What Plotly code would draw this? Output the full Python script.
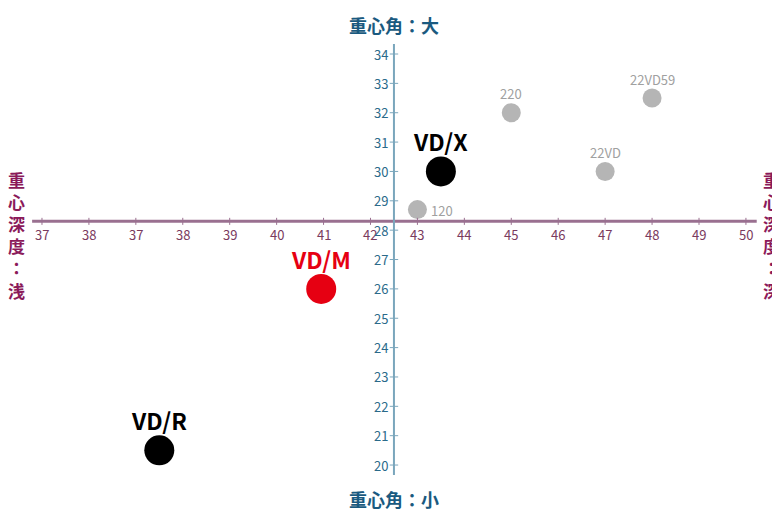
import plotly.graph_objects as go

x_tickvals = list(range(35, 51))
x_ticktext = ["37", "38", "37", "38", "39", "40", "41", "42", "43", "44", "45", "46", "47", "48", "49", "50"]
y_tickvals = list(range(20, 35))

small_names = ["120", "220", "22VD", "22VD59"]
small_x = [43, 45, 47, 48]
small_y = [28.7, 32, 30, 32.5]

big_names = ["VD/X", "VD/M", "VD/R"]
big_x = [43.5, 40.95, 37.5]
big_y = [30, 26, 20.5]
big_colors = ["#000000", "#e60012", "#000000"]

cross_x = 42.5
cross_y = 28.3
xr = [34.276, 50.726]
yr = [18.196, 35.567]

fig = go.Figure()
fig.add_shape(type="line", x0=34.79, x1=50.23, y0=cross_y, y1=cross_y, line=dict(color="#9a7090", width=3))
fig.add_shape(type="line", x0=cross_x, x1=cross_x, y0=19.66, y1=34.34, line=dict(color="#7aa6bc", width=2))

fig.add_trace(go.Scatter(x=small_x, y=small_y, mode="markers", marker=dict(size=19, color="#b5b5b5"), hoverinfo="skip"))
fig.add_trace(go.Scatter(x=big_x, y=big_y, mode="markers", marker=dict(size=30, color=big_colors), hoverinfo="skip"))

ff = "Noto Sans CJK JP"
for n, x, y in zip(small_names, small_x, small_y):
    if n == "120":
        fig.add_annotation(x=x, y=y, text=n, showarrow=False, xshift=25, yshift=-1, font=dict(size=13, color="#a0a0a0", family=ff))
    else:
        fig.add_annotation(x=x, y=y, text=n, showarrow=False, yshift=19, font=dict(size=13, color="#a0a0a0", family=ff))
for n, x, y, c in zip(big_names, big_x, big_y, big_colors):
    fig.add_annotation(x=x, y=y, text="<b>%s</b>" % n, showarrow=False, yshift=30, font=dict(size=23, color=c, family=ff))

for v, t in zip(x_tickvals, x_ticktext):
    fig.add_annotation(x=v, y=cross_y, text=t, showarrow=False, yshift=-13, font=dict(size=13, color="#7a3a5e", family=ff))
    fig.add_shape(type="line", x0=v, x1=v, y0=cross_y - 0.12, y1=cross_y + 0.12, line=dict(color="#9a7090", width=1))
for v in y_tickvals:
    fig.add_annotation(x=cross_x, y=v, text=str(v), showarrow=False, xshift=-13, font=dict(size=13, color="#2a6a8a", family=ff))
    fig.add_shape(type="line", x0=cross_x - 0.09, x1=cross_x + 0.09, y0=v, y1=v, line=dict(color="#7aa6bc", width=1))

teal = "#1a5a80"
mag = "#8b1a5a"
fig.add_annotation(x=cross_x, y=1, yref="paper", yanchor="top", yshift=-2, text="<b>重心角：大</b>", showarrow=False, font=dict(size=18, color=teal, family=ff))
fig.add_annotation(x=cross_x, y=0, yref="paper", yanchor="bottom", yshift=4, text="<b>重心角：小</b>", showarrow=False, font=dict(size=18, color=teal, family=ff))
vert_l = "<br>".join(list("重心深度")) + "<br>：<br>浅"
vert_r = "<br>".join(list("重心深度")) + "<br>：<br>深"
fig.add_annotation(x=0, xref="paper", xanchor="left", xshift=-2, y=cross_y, yshift=-14, text="<b>" + vert_l + "</b>", showarrow=False, font=dict(size=17, color=mag, family=ff))
fig.add_annotation(x=1, xref="paper", xanchor="right", xshift=2, y=cross_y, yshift=-14, text="<b>" + vert_r + "</b>", showarrow=False, font=dict(size=17, color=mag, family=ff))

fig.update_layout(
    width=772, height=510, margin=dict(l=0, r=0, t=0, b=0),
    plot_bgcolor="white", paper_bgcolor="white", showlegend=False,
    xaxis=dict(range=xr, visible=False),
    yaxis=dict(range=yr, visible=False),
)
fig.write_html("out.html")
